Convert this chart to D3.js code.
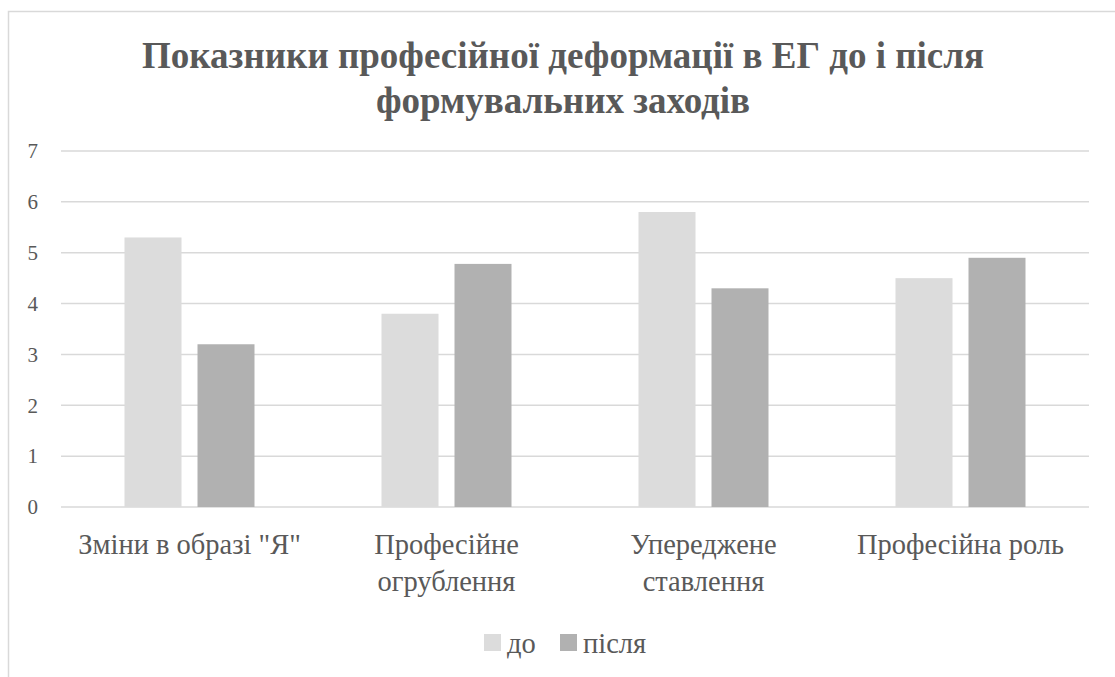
<!DOCTYPE html>
<html>
<head>
<meta charset="utf-8">
<script src="https://cdn.jsdelivr.net/npm/d3@7"></script>
</head>
<body style="margin:0; background:#fff">
<div id="chart"></div>
<script>
// data
var categories = [["Зміни в образі \"Я\""], ["Професійне", "огрублення"], ["Упереджене", "ставлення"], ["Професійна роль"]];
var seriesNames = ["до", "після"];
var before = [5.3, 3.8, 5.8, 4.5];
var after = [3.2, 4.78, 4.3, 4.9];
var yTicks = [0, 1, 2, 3, 4, 5, 6, 7];
var colors = ["#dcdcdc", "#b1b1b1"];

var FONT = "Liberation Serif";

// ask for the fonts early
if (document.fonts && document.fonts.load) {
  document.fonts.load("28px 'Liberation Serif'", "Зміни 0123");
  document.fonts.load("bold 37px 'Liberation Serif'", "Показники");
}

var W = 1115, H = 677;
var margin = {top: 151, right: 26, bottom: 170, left: 61},
    width = W - margin.left - margin.right,
    height = H - margin.top - margin.bottom;

var svg = d3.select("#chart").append("svg")
    .attr("width", W).attr("height", H);

// outer frame (cropped at right and bottom)
svg.append("rect")
    .attr("x", 8.5).attr("y", 11.5)
    .attr("width", W + 20).attr("height", H + 20)
    .attr("fill", "none").attr("stroke", "#d9d9d9").attr("stroke-width", 1.5);

// title
var title = svg.append("text")
    .attr("class", "lbl")
    .attr("text-anchor", "middle")
    .style("fill", "#595959")
    .style("font-family", FONT)
    .style("font-weight", "bold")
    .style("font-size", "37px");
title.append("tspan").attr("x", 563).attr("y", 68).text("Показники професійної деформації в ЕГ до і після");
title.append("tspan").attr("x", 563).attr("y", 113).text("формувальних заходів");

var g = svg.append("g").attr("transform", "translate(" + margin.left + "," + margin.top + ")");

var idx = d3.range(categories.length);
var x = d3.scaleBand().domain(idx).range([0, width]);
var y = d3.scaleLinear().domain([0, 7]).range([height, 0]);

// grid
g.selectAll(".grid").data(yTicks).enter().append("line")
    .attr("x1", 0).attr("x2", width)
    .attr("y1", function(d) { return y(d); }).attr("y2", function(d) { return y(d); })
    .attr("stroke", "#d9d9d9").attr("stroke-width", 1.5);

// y labels
g.selectAll(".ylab").data(yTicks).enter().append("text")
    .attr("class", "lbl")
    .attr("x", -23).attr("y", function(d) { return y(d); })
    .attr("dy", "0.35em")
    .attr("text-anchor", "end")
    .style("fill", "#595959")
    .style("font-family", FONT)
    .style("font-size", "21px")
    .text(function(d) { return d; });

// bars
var barW = 57, gap = 16;
var series = [before, after];
series.forEach(function(vals, s) {
  g.selectAll(".bar" + s).data(vals).enter().append("rect")
    .attr("x", function(d, i) {
      var c = x(i) + x.bandwidth() / 2;
      return c - (2 * barW + gap) / 2 + s * (barW + gap);
    })
    .attr("y", function(d) { return y(d); })
    .attr("width", barW)
    .attr("height", function(d) { return height - y(d); })
    .attr("fill", colors[s]);
});

// category labels
categories.forEach(function(lines, i) {
  var t = g.append("text")
    .attr("class", "lbl")
    .attr("text-anchor", "middle")
    .style("fill", "#595959")
    .style("font-family", FONT)
    .style("font-size", "28.5px");
  lines.forEach(function(l, k) {
    t.append("tspan")
      .attr("x", x(i) + x.bandwidth() / 2)
      .attr("y", height + 47 + k * 37)
      .text(l);
  });
});

// legend
var leg = svg.append("g");
var lx = [484, 560];
seriesNames.forEach(function(n, s) {
  leg.append("rect").attr("x", lx[s]).attr("y", 634).attr("width", 17).attr("height", 17).attr("fill", colors[s]);
  leg.append("text").attr("class", "lbl")
    .attr("x", lx[s] + 23).attr("y", 653)
    .style("fill", "#595959")
    .style("font-family", FONT)
    .style("font-size", "28.5px").text(n);
});

// re-apply the font once it is ready
if (document.fonts && document.fonts.ready) {
  document.fonts.ready.then(function() {
    d3.selectAll(".lbl").style("font-family", FONT + ", serif");
  });
}
</script>
</body>
</html>
